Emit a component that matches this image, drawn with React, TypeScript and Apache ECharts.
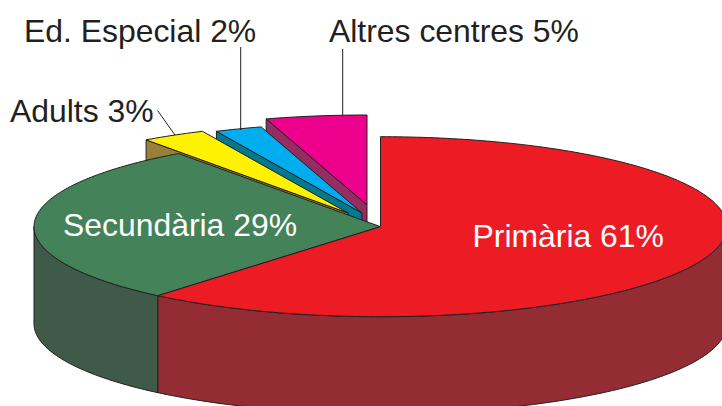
import React, { useEffect, useRef } from "react";
import * as echarts from "echarts";

const categories = ["Primària", "Secundària", "Adults", "Ed. Especial", "Altres centres"];
const percentLabels = [61, 29, 3, 2, 5];
const shares = [61.1, 29.0, 3.0, 2.2, 4.7];
const topColors = ["#ED1C24", "#44825A", "#FFF200", "#00AEEF", "#EC008C"];
const wallColors = ["#942D33", "#3F5A48", "#988038", "#007A8F", "#952D62"];
const explodeDx = [0, 0, -32.5, -18.5, -13.5];
const explodeDy = [0, 0, -13.7, -13.7, -21.7];
const labelX = [472.5, 63, 10, 24, 329];
const labelY = [252, 241, 127, 47, 47];
const labelFill = ["#FFFFFF", "#FFFFFF", "#231F20", "#231F20", "#231F20"];
const leaderLines = [
  [157.7, 110.7, 175, 135],
  [240.7, 47, 240.7, 130],
  [342.7, 49, 342.7, 116],
];

const CX = 380.5;
const CY = 226.7;
const RX = 346.5;
const RY = 90;
const DEPTH = 97;
const STROKE = "#231F20";
const FONT = '"Liberation Sans", Arial, sans-serif';
const FONT_SIZE = 31.9;

const total = shares.reduce((a, b) => a + b, 0);
const startOf = (i: number) => (shares.slice(0, i).reduce((a, b) => a + b, 0) / total) * 2 * Math.PI;

function arc(cx: number, cy: number, a0: number, a1: number): number[][] {
  const steps = Math.max(2, Math.ceil(((a1 - a0) / (2 * Math.PI)) * 360));
  const pts: number[][] = [];
  for (let k = 0; k <= steps; k++) {
    const t = a0 + ((a1 - a0) * k) / steps;
    pts.push([cx + RX * Math.sin(t), cy - RY * Math.cos(t)]);
  }
  return pts;
}

function renderItem(params: any, api: any) {
  const i = params.dataIndex;
  const share = api.value(0);
  const a0 = startOf(i);
  const a1 = a0 + (share / total) * 2 * Math.PI;
  const cx = CX + explodeDx[i];
  const cy = CY + explodeDy[i];
  const z = categories.length - i;
  const lineStyle = { stroke: STROKE, lineWidth: 1, lineJoin: "round" };
  const children: any[] = [];

  // Radial wall at the leading edge of a separated slice
  if (explodeDx[i] !== 0) {
    const start = arc(cx, cy, a0, a0)[0];
    children.push({
      type: "polygon",
      z2: z * 10,
      shape: {
        points: [
          [cx, cy],
          start,
          [start[0], start[1] + DEPTH],
          [cx, cy + DEPTH],
        ],
      },
      style: { fill: wallColors[i], ...lineStyle },
    });
  }

  // Outer front wall
  const f0 = Math.max(a0, Math.PI / 2);
  const f1 = Math.min(a1, (3 * Math.PI) / 2);
  if (f1 > f0) {
    const upper = arc(cx, cy, f0, f1);
    const lower = upper.map((p) => [p[0], p[1] + DEPTH]).reverse();
    children.push({
      type: "polygon",
      z2: z * 10 + 1,
      shape: { points: [...upper, ...lower] },
      style: { fill: wallColors[i], ...lineStyle },
    });
  }

  // Top face
  children.push({
    type: "polygon",
    z2: z * 10 + 2,
    shape: { points: [[cx, cy], ...arc(cx, cy, a0, a1)] },
    style: { fill: topColors[i], ...lineStyle },
  });

  // Label
  children.push({
    type: "text",
    z2: 200,
    x: labelX[i],
    y: labelY[i],
    style: {
      text: `${categories[i]} ${percentLabels[i]}%`,
      fill: labelFill[i],
      font: `${FONT_SIZE}px ${FONT}`,
      textAlign: "left",
      textVerticalAlign: "bottom",
      verticalAlign: "bottom",
    },
  });

  return { type: "group", children };
}

export default function App() {
  const ref = useRef<HTMLDivElement>(null);
  useEffect(() => {
    const chart = echarts.init(ref.current!, undefined, { renderer: "svg" });
    chart.setOption({
      animation: false,
      backgroundColor: "#FFFFFF",
      graphic: leaderLines.map((l) => ({
        type: "line",
        z: 20,
        shape: { x1: l[0], y1: l[1], x2: l[2], y2: l[3] },
        style: { stroke: STROKE, lineWidth: 1 },
      })),
      series: [
        {
          type: "custom",
          coordinateSystem: "none",
          clip: false,
          data: shares.map((v, i) => ({ name: categories[i], value: [v] })),
          renderItem,
        },
      ],
    });
    return () => chart.dispose();
  }, []);
  return (
    <div
      ref={ref}
      style={{ position: "absolute", left: 0, top: 0, width: 722, height: 406, overflow: "hidden" }}
    />
  );
}
